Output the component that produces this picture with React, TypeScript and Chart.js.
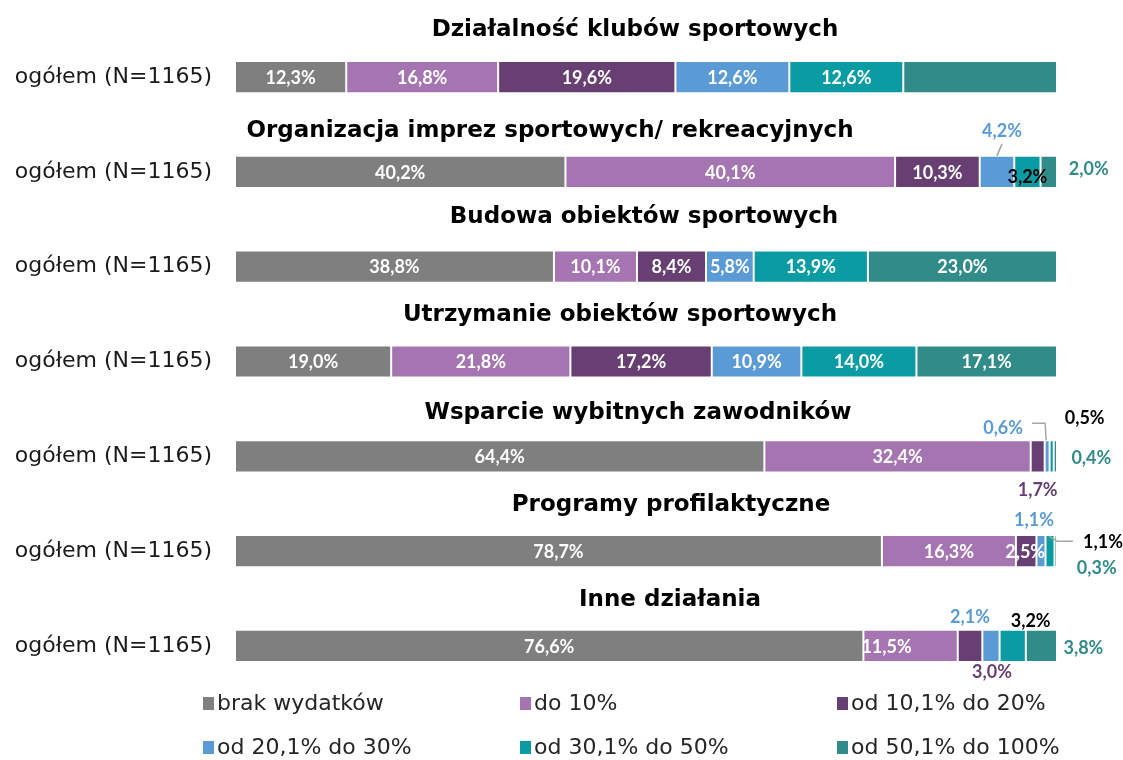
import React, { useEffect, useRef } from 'react';
import { Chart, registerables } from 'chart.js';
Chart.register(...registerables);

// ---- data ----
const titles = [
  'Działalność klubów sportowych',
  'Organizacja imprez sportowych/ rekreacyjnych',
  'Budowa obiektów sportowych',
  'Utrzymanie obiektów sportowych',
  'Wsparcie wybitnych zawodników',
  'Programy profilaktyczne',
  'Inne działania',
];
const rowLabel = 'ogółem (N=1165)';
const seriesNames = ['brak wydatków', 'do 10%', 'od 10,1% do 20%', 'od 20,1% do 30%', 'od 30,1% do 50%', 'od 50,1% do 100%'];
const brakWydatkow = [12.3, 40.2, 38.8, 19.0, 64.4, 78.7, 76.6];
const do10 = [16.8, 40.1, 10.1, 21.8, 32.4, 16.3, 11.5];
const od10do20 = [19.6, 10.3, 8.4, 17.2, 1.7, 2.5, 3.0];
const od20do30 = [12.6, 4.2, 5.8, 10.9, 0.6, 1.1, 2.1];
const od30do50 = [12.6, 3.2, 13.9, 14.0, 0.5, 1.1, 3.2];
const od50do100 = [17.0, 2.0, 23.0, 17.1, 0.4, 0.3, 3.8];
const series = [brakWydatkow, do10, od10do20, od20do30, od30do50, od50do100];

// ---- styles ----
const GRAY = '#7f7f7f';
const PURPLE = '#a475b0';
const DPURPLE = '#673f72';
const BLUE = '#5b9bd5';
const TEAL = '#0b9ca3';
const DTEAL = '#318b89';
const colors = [GRAY, PURPLE, DPURPLE, BLUE, TEAL, DTEAL];

const titleX = [635, 550, 644, 620, 638, 671, 670];
const titleDy = [-47, -41, -50, -46, -43, -46, -46];

type LabelSpec = { dx: number; dy: number; color: string; leader?: number[][] } | null;
// key: "seriesIndex,rowIndex"
const labelOverrides: Record<string, LabelSpec> = {
  '5,0': null,
  '3,1': { dx: 5, dy: -42, color: BLUE, leader: [[5, -28], [0, -16]] },
  '4,1': { dx: 0, dy: 4, color: '#000000' },
  '5,1': { dx: 40, dy: -4, color: DTEAL },
  '2,4': { dx: 0, dy: 33, color: DPURPLE },
  '3,4': { dx: -44, dy: -29, color: BLUE, leader: [[-15, -33], [-2, -33], [-1, -16]] },
  '4,4': { dx: 33, dy: -39, color: '#000000' },
  '5,4': { dx: 36, dy: 1, color: DTEAL },
  '2,5': { dx: -1, dy: 0, color: '#ffffff' },
  '3,5': { dx: -7, dy: -32, color: BLUE },
  '4,5': { dx: 53, dy: -10, color: '#000000', leader: [[-1, -15], [7, -10], [23, -10]] },
  '5,5': { dx: 41, dy: 16, color: DTEAL },
  '1,6': { dx: -24, dy: 0, color: '#ffffff' },
  '2,6': { dx: 22, dy: 25, color: DPURPLE },
  '3,6': { dx: -21, dy: -30, color: BLUE },
  '4,6': { dx: 18, dy: -26, color: '#000000' },
  '5,6': { dx: 42, dy: 1, color: DTEAL },
};

const legendCols = [203, 520, 837];
const legendRows = [703, 747];

const fmt = (v: number) => v.toFixed(1).replace('.', ',') + '%';

const overlayPlugin = {
  id: 'overlay',
  afterDatasetsDraw(chart: any) {
    const ctx = chart.ctx as CanvasRenderingContext2D;
    ctx.save();
    // titles
    const meta0 = chart.getDatasetMeta(0);
    ctx.fillStyle = '#000000';
    ctx.font = 'bold 23px "DejaVu Sans"';
    ctx.textAlign = 'center';
    ctx.textBaseline = 'middle';
    titles.forEach((t, r) => {
      const el = meta0.data[r];
      ctx.fillText(t, titleX[r], el.y + titleDy[r]);
    });
    // data labels
    ctx.font = 'bold 18px Lato';
    series.forEach((s, si) => {
      const meta = chart.getDatasetMeta(si);
      s.forEach((v, r) => {
        const key = si + ',' + r;
        const el = meta.data[r];
        const { x, base, y } = el.getProps(['x', 'base', 'y'], true);
        const cx = (x + base) / 2;
        let spec: LabelSpec = { dx: 0, dy: 0, color: '#ffffff' };
        if (key in labelOverrides) spec = labelOverrides[key];
        if (!spec) return;
        if (spec.leader) {
          ctx.strokeStyle = '#a6a6a6';
          ctx.lineWidth = 1.5;
          ctx.beginPath();
          spec.leader.forEach((p, i) => {
            if (i === 0) ctx.moveTo(cx + p[0], y + p[1]);
            else ctx.lineTo(cx + p[0], y + p[1]);
          });
          ctx.stroke();
        }
        ctx.fillStyle = spec.color;
        ctx.fillText(fmt(v), cx + spec.dx, y + spec.dy + 1);
      });
    });
    // legend
    ctx.font = '22px "DejaVu Sans"';
    ctx.textAlign = 'left';
    seriesNames.forEach((name, i) => {
      const col = i % 3;
      const row = Math.floor(i / 3);
      const lx = legendCols[col];
      const ly = legendRows[row];
      ctx.fillStyle = colors[i];
      ctx.fillRect(lx, ly - 6, 11, 13);
      ctx.fillStyle = '#262626';
      ctx.fillText(name, lx + 14, ly + 1);
    });
    ctx.restore();
  },
};

export default function App() {
  const canvasRef = useRef<HTMLCanvasElement | null>(null);
  useEffect(() => {
    document.body.style.margin = '0';
    const canvas = canvasRef.current;
    if (!canvas) return;
    const rowSums = titles.map((_, r) => series.reduce((a, s) => a + s[r], 0));
    const chart = new Chart(canvas, {
      type: 'bar',
      data: {
        labels: titles.map(() => rowLabel),
        datasets: series.map((s, i) => ({
          label: seriesNames[i],
          data: s.map((v, r) => (v / rowSums[r]) * 100),
          backgroundColor: colors[i],
          borderColor: 'rgba(255,255,255,0.6)',
          borderWidth: 1,
          borderSkipped: false,
          barPercentage: 1,
          categoryPercentage: 0.34,
        })),
      },
      options: {
        indexAxis: 'y',
        animation: false,
        responsive: false,
        layout: { padding: { left: 0, right: 66, top: 29.6, bottom: 66.6 } },
        scales: {
          x: { stacked: true, min: 0, max: 100, display: false },
          y: {
            stacked: true,
            grid: { display: false, drawTicks: false },
            border: { display: false },
            ticks: { padding: 23, color: '#1a1a1a', font: { family: 'DejaVu Sans', size: 22 } },
            afterFit: (s: any) => {
              s.width = 235;
              s.paddingTop = 0;
              s.paddingBottom = 0;
            },
          },
        },
        plugins: { legend: { display: false }, tooltip: { enabled: false } },
      } as any,
      plugins: [overlayPlugin],
    });
    return () => chart.destroy();
  }, []);
  return (
    <div style={{ width: 1123, height: 760 }}>
      <canvas ref={canvasRef} width={1123} height={760} style={{ display: 'block' }} />
    </div>
  );
}
